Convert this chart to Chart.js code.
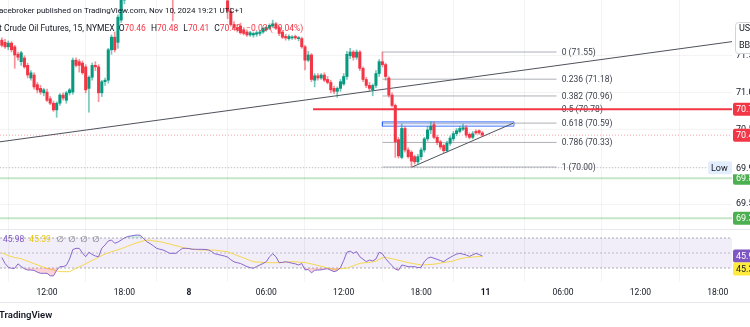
<!DOCTYPE html>
<html>
<head>
<meta charset="utf-8">
<script src="https://cdn.jsdelivr.net/npm/chart.js@4.4.1/dist/chart.umd.min.js"></script>
<style>
  html, body { margin: 0; padding: 0; background: #ffffff; overflow: hidden; }
  #wrap { position: relative; width: 750px; height: 327px; overflow: hidden; }
  canvas { display: block; }
</style>
</head>
<body>
<div id="wrap"><canvas id="chart" width="750" height="327"></canvas></div>
<script>
// ---- Light Crude Oil Futures, 15 min bars (bar 0 = Nov 7, 12:00) ----
const FIRST_BAR = -14;

const opens = [
  71.71, 71.68, 71.62, 71.67, 71.62, 71.52, 71.42, 71.47, 71.37, 71.20, 71.24, 71.11, 71.06, 71.00,
  71.01, 70.92, 70.86, 70.77, 70.86, 70.97, 70.90, 71.00, 71.01, 71.44, 71.42, 71.40, 71.35, 71.06, 71.21, 71.37, 71.35, 71.00, 71.15, 71.17, 71.58, 71.75, 71.68, 71.98,
  72.25, 72.40, 72.50, 72.58, 72.54, 72.48, 72.55, 72.66, 72.62, 72.56, 72.47, 72.42, 72.38, 72.35, 72.28, 72.30, 72.26, 72.36, 72.42, 72.46, 72.44, 72.48, 72.45, 72.41, 72.43, 72.40, 72.37, 72.40, 72.38, 72.33, 72.30, 72.32, 72.24, 72.10,
  71.92, 71.88, 71.90, 71.85, 71.82, 71.78, 71.78, 71.79, 71.80, 71.82, 71.85, 71.87, 71.90, 71.93, 71.88, 71.82, 71.76, 71.73, 71.74, 71.76, 71.73, 71.73, 71.62, 71.44, 71.51, 71.17, 71.23, 71.20, 71.24, 71.18, 71.14, 71.06, 71.02, 71.06, 71.12, 71.22, 71.50, 71.55, 71.48, 71.55, 71.33, 71.18, 71.10, 71.04, 71.10, 71.26,
  71.42, 71.38, 71.20, 70.97, 70.83, 70.37, 70.13, 70.52, 70.23, 70.20, 70.14, 70.07, 70.14, 70.23, 70.38, 70.50, 70.57, 70.40, 70.34, 70.29, 70.22, 70.32, 70.38, 70.45, 70.48, 70.51, 70.53, 70.44, 70.40, 70.48, 70.49, 70.46
];
const highs = [
  71.74, 71.72, 71.70, 71.69, 71.64, 71.55, 71.56, 71.50, 71.40, 71.30, 71.27, 71.14, 71.10, 71.06,
  71.05, 70.95, 70.89, 70.88, 70.99, 71.00, 71.02, 71.06, 71.47, 71.47, 71.45, 71.43, 71.38, 71.23, 71.40, 71.42, 71.38, 71.17, 71.20, 71.60, 71.78, 71.82, 72.05, 72.30,
  72.45, 72.55, 72.62, 72.66, 72.60, 72.58, 72.70, 72.75, 72.68, 72.60, 72.52, 72.48, 72.44, 72.40, 72.34, 72.36, 72.40, 72.46, 72.50, 72.54, 72.52, 72.56, 72.50, 72.47, 72.49, 72.45, 72.44, 72.46, 72.42, 72.38, 72.36, 72.35, 72.30, 72.14,
  71.96, 71.92, 71.94, 71.88, 71.85, 71.83, 71.82, 71.83, 71.84, 71.89, 71.90, 71.93, 71.98, 71.95, 71.90, 71.84, 71.79, 71.78, 71.77, 71.78, 71.76, 71.75, 71.64, 71.56, 71.53, 71.26, 71.26, 71.26, 71.27, 71.22, 71.17, 71.09, 71.08, 71.18, 71.26, 71.56, 71.60, 71.57, 71.58, 71.57, 71.35, 71.21, 71.14, 71.12, 71.30, 71.45,
  71.55, 71.40, 71.22, 71.00, 70.85, 70.40, 70.58, 70.55, 70.26, 70.22, 70.16, 70.17, 70.26, 70.40, 70.55, 70.61, 70.61, 70.43, 70.36, 70.31, 70.35, 70.42, 70.48, 70.52, 70.55, 70.58, 70.56, 70.46, 70.48, 70.50, 70.50, 70.48
];
const lows = [
  71.62, 71.60, 71.58, 71.55, 71.33, 71.44, 71.37, 71.33, 71.20, 71.17, 71.05, 71.00, 70.98, 70.96,
  70.88, 70.84, 70.75, 70.67, 70.83, 70.90, 70.86, 70.97, 70.98, 71.35, 71.28, 71.25, 71.00, 70.74, 71.17, 71.30, 70.88, 70.95, 71.10, 71.13, 71.52, 71.55, 71.60, 71.95,
  72.20, 72.36, 72.44, 72.50, 72.45, 72.42, 72.52, 72.58, 72.52, 72.44, 72.38, 72.34, 72.30, 72.27, 72.26, 71.97, 72.26, 72.32, 72.38, 72.40, 72.40, 72.42, 72.38, 72.36, 72.38, 72.34, 72.32, 72.35, 72.30, 72.27, 72.26, 72.26, 72.00, 71.90,
  71.86, 71.82, 71.79, 71.78, 71.76, 71.76, 71.75, 71.76, 71.77, 71.80, 71.83, 71.85, 71.88, 71.85, 71.77, 71.73, 71.71, 71.71, 71.72, 71.72, 71.70, 71.60, 71.31, 71.42, 71.15, 71.08, 71.17, 71.18, 71.15, 71.12, 71.00, 70.99, 70.94, 71.02, 71.10, 71.18, 71.46, 71.44, 71.45, 71.30, 71.15, 71.07, 71.03, 70.96, 71.07, 71.22,
  71.35, 71.17, 70.94, 70.81, 70.13, 70.12, 70.11, 70.20, 70.12, 70.00, 70.04, 70.04, 70.10, 70.20, 70.35, 70.45, 70.38, 70.30, 70.24, 70.19, 70.20, 70.29, 70.35, 70.42, 70.46, 70.49, 70.40, 70.38, 70.38, 70.44, 70.44, 70.41
];
const closes = [
  71.64, 71.62, 71.67, 71.58, 71.51, 71.48, 71.54, 71.35, 71.24, 71.27, 71.08, 71.04, 71.01, 71.04,
  70.90, 70.86, 70.77, 70.86, 70.97, 70.93, 71.00, 71.04, 71.44, 71.37, 71.37, 71.27, 71.04, 71.21, 71.37, 71.35, 71.00, 71.15, 71.17, 71.58, 71.75, 71.58, 72.02, 72.25,
  72.40, 72.50, 72.58, 72.54, 72.48, 72.55, 72.66, 72.62, 72.56, 72.47, 72.42, 72.38, 72.35, 72.28, 72.30, 72.26, 72.36, 72.42, 72.46, 72.44, 72.48, 72.45, 72.41, 72.43, 72.40, 72.37, 72.40, 72.38, 72.33, 72.30, 72.32, 72.28, 72.10, 71.92,
  71.88, 71.85, 71.81, 71.80, 71.78, 71.81, 71.80, 71.81, 71.82, 71.87, 71.88, 71.91, 71.93, 71.87, 71.80, 71.75, 71.74, 71.76, 71.75, 71.74, 71.74, 71.62, 71.44, 71.51, 71.18, 71.23, 71.20, 71.24, 71.17, 71.14, 71.04, 71.02, 71.06, 71.15, 71.22, 71.52, 71.55, 71.48, 71.55, 71.33, 71.18, 71.10, 71.06, 71.10, 71.26, 71.42,
  71.38, 71.22, 70.97, 70.83, 70.34, 70.15, 70.52, 70.23, 70.14, 70.08, 70.07, 70.14, 70.23, 70.38, 70.50, 70.55, 70.40, 70.33, 70.27, 70.22, 70.32, 70.39, 70.45, 70.49, 70.52, 70.53, 70.43, 70.40, 70.45, 70.46, 70.46, 70.43
];

// RSI 14 and its moving average, one value per bar
const rsiValues = [
  44, 36, 31, 29.6, 29.6, 35.5, 32, 29, 27.3, 27.3, 26.8, 24.5, 22.9, 22.9,
  22.9, 19.5, 19.5, 27, 31.8, 31.8, 33.5, 42, 54.5, 56.2, 56.2, 50, 45, 51, 48, 46, 45, 56.5, 60.7, 66, 67.3, 63, 64.5, 67.3,
  70, 72, 72.7, 73.5, 74, 73.5, 69, 65, 62.5, 59.5, 56.2, 55, 54, 52, 49.6, 49.6, 49.6, 53, 56.2, 56.2, 56, 55, 54.9, 54.9, 54.9, 54.7, 54.2, 52, 49, 48, 47, 46, 44.5, 41,
  38.2, 37, 36, 34, 31.8, 30.5, 29.6, 32, 34, 36, 38.4, 45, 49, 45, 37, 37.5, 38.3, 37.5, 36.4, 35.5, 34, 36, 27.5, 28, 23.5, 27, 27.3, 27.5, 28.5, 29, 27, 25.1, 26.5, 30.5, 40, 51, 52.5, 49.6, 51.8, 45, 41.7, 38.5, 40.5, 39.5, 42, 51,
  49, 42.5, 37.5, 33, 28.5, 27, 34, 33, 31.8, 31.8, 31.8, 30.5, 31, 38.5, 43, 44.5, 43, 41.5, 40, 38.3, 41.5, 44, 46.5, 48.5, 49.5, 48.5, 47.3, 45.5, 47.5, 49.5, 48, 45.98
];
const rsiMaValues = [
  50, 48.5, 46.5, 45.2, 44, 43.3, 42.4, 40.6, 39, 37.4, 35.8, 34.2, 32.6, 31,
  29.5, 28.4, 27.4, 26.2, 25.1, 25.1, 25.1, 25.1, 27.5, 29.5, 31.5, 33.6, 35.8, 37.9, 40, 42.2, 44.4, 46.5, 48.7, 50.3, 51.7, 53, 54.3, 55.6,
  57.3, 59, 60.7, 62.5, 63.8, 65, 66.3, 67.3, 67, 66, 65.7, 65.1, 64, 63, 62, 60.8, 59.8, 58.6, 57.5, 56.4, 55.8, 55.3, 54.7, 54.2, 54, 54, 54, 54, 53.8, 53.2, 52.7, 52.2, 51.6, 50,
  48.4, 46.5, 45, 43.4, 41.6, 40, 38.4, 38, 37.8, 37.4, 37.1, 37.1, 37.1, 37.1, 37.1, 37.4, 37.7, 38.1, 38.4, 38.2, 37.8, 37.5, 37.2, 36.4, 35.4, 34.4, 33.3, 32.3, 31.2, 30.1, 29, 28.2, 28.5, 29, 29.4, 29.6, 31.4, 33, 34.6, 36.2, 36.7, 37.2, 37.6, 38.1, 39, 41.5,
  43.5, 44, 43.2, 42.2, 41.4, 40.3, 39.3, 38.2, 37.1, 36.4, 35.6, 34.8, 34.1, 34.3, 34.6, 34.8, 35.1, 35.8, 36.6, 37.3, 38, 38.6, 39.4, 41, 42.1, 43.3, 43.9, 44.3, 44.6, 45, 45.2, 45.39
];

// time axis: bar number of each label and its text
const timeTickBars   = [0, 24, 44, 68, 92, 116, 136, 160, 184, 208];
const timeTickLabels = ['12:00', '18:00', '8', '06:00', '12:00', '18:00', '11', '06:00', '12:00', '18:00'];
const dayTickLabels  = ['8', '11'];

// price scale labels
const priceTicks = [69.5, 70.0, 70.5, 71.0, 71.5];

// drawings
const fibHigh = 71.55, fibLow = 70.00;
const fibRatios = [0, 0.236, 0.382, 0.5, 0.618, 0.786, 1];
const fibFromBar = 104, fibToBar = 158, fibLabelBar = 159.6;
const resistanceLevel = 70.78, resistanceFromBar = 82.5;
const supportLevels = [69.85, 69.31];
const sessionLow = 69.99;
const trendLinePoints = [{ x: -14.57, y: 70.34 }, { x: 212.4, y: 71.69 }];
const triangleLowerPoints = [{ x: 113.2, y: 70.00 }, { x: 144.5, y: 70.59 }];
const rangeBox = { fromBar: 104, toBar: 144.8, low: 70.55, high: 70.61 };
const rsiBands = [70, 50, 30];

// visible window (bars)
const X_MIN = -14.57, X_MAX = 212.4;

const FONT = 'Roboto, "Noto Sans", "DejaVu Sans", sans-serif';
const UP = '#089981', DOWN = '#F23645';
const TEXT = '#131722';

const barNo = opens.map((_, k) => FIRST_BAR + k);
const isUp = opens.map((o, k) => closes[k] >= o);
const lastK = closes.length - 1;

function fibPrice(r) { return fibHigh - r * (fibHigh - fibLow); }
function fmt2(v) { return (Math.round(v * 100 + 1e-6) / 100).toFixed(2); }

function hLine(value, from, to, color, width, dash, axis, order) {
  return {
    type: 'line', yAxisID: axis || 'y', order: order || 5,
    data: [{ x: from, y: value }, { x: to, y: value }],
    borderColor: color, borderWidth: width, borderDash: dash || [],
    pointRadius: 0, fill: false, tension: 0
  };
}

const datasets = [];

// candles: wicks then bodies
datasets.push({
  type: 'bar', label: 'wicks', yAxisID: 'y', order: 3, grouped: false,
  data: barNo.map((x, k) => ({ x, y: [lows[k], highs[k]] })),
  backgroundColor: isUp.map(u => u ? 'rgba(8,153,129,0.55)' : 'rgba(242,54,69,0.55)'),
  barThickness: 1
});
datasets.push({
  type: 'bar', label: 'bodies', yAxisID: 'y', order: 2, grouped: false,
  data: barNo.map((x, k) => ({ x, y: [opens[k], closes[k]] })),
  backgroundColor: isUp.map(u => u ? UP : DOWN),
  barThickness: 2.4, minBarLength: 1
});

// fib retracement levels
fibRatios.forEach(r => datasets.push(hLine(fibPrice(r), fibFromBar, fibToBar, 'rgba(120,123,134,0.6)', 1, [], 'y', 6)));

// long trend line and triangle support
datasets.push({ type: 'line', yAxisID: 'y', order: 4, data: trendLinePoints, borderColor: '#4f525c', borderWidth: 1, pointRadius: 0, fill: false });
datasets.push({ type: 'line', yAxisID: 'y', order: 4, data: triangleLowerPoints, borderColor: '#4f525c', borderWidth: 1, pointRadius: 0, fill: false });

// range rectangle
datasets.push({
  type: 'line', yAxisID: 'y', order: 5,
  data: [
    { x: rangeBox.fromBar, y: rangeBox.low }, { x: rangeBox.toBar, y: rangeBox.low },
    { x: rangeBox.toBar, y: rangeBox.high }, { x: rangeBox.fromBar, y: rangeBox.high },
    { x: rangeBox.fromBar, y: rangeBox.low }
  ],
  borderColor: 'rgba(41,98,255,0.75)', borderWidth: 1, backgroundColor: 'rgba(41,98,255,0.13)',
  pointRadius: 0, fill: 'shape', tension: 0
});

// horizontal levels
datasets.push(hLine(resistanceLevel, resistanceFromBar, X_MAX, DOWN, 2, [], 'y', 1));
supportLevels.forEach(v => datasets.push(hLine(v, X_MIN, X_MAX, 'rgba(76,175,80,0.32)', 2, [], 'y', 7)));
datasets.push(hLine(closes[lastK], X_MIN, X_MAX, 'rgba(242,54,69,0.45)', 1, [1, 2], 'y', 7));
datasets.push(hLine(sessionLow, X_MIN, X_MAX, 'rgba(120,123,134,0.45)', 1, [1, 2], 'y', 7));

// RSI pane: band lines and band fill
datasets.push(hLine(rsiBands[0], X_MIN, X_MAX, 'rgba(120,123,134,0.6)', 1, [2, 2], 'rsi', 9));
datasets.push(Object.assign(hLine(rsiBands[2], X_MIN, X_MAX, 'rgba(120,123,134,0.6)', 1, [2, 2], 'rsi', 9), {
  fill: '-1', backgroundColor: 'rgba(126,87,194,0.10)'
}));
datasets.push(hLine(rsiBands[1], X_MIN, X_MAX, 'rgba(120,123,134,0.45)', 1, [2, 2], 'rsi', 9));

// RSI moving average
datasets.push({
  type: 'line', yAxisID: 'rsi', order: 8,
  data: barNo.map((x, k) => ({ x, y: rsiMaValues[k] })),
  borderColor: '#F5D64A', borderWidth: 1, pointRadius: 0, fill: false, tension: 0
});
// RSI with oversold / overbought shading
datasets.push({
  type: 'line', yAxisID: 'rsi', order: 7,
  data: barNo.map((x, k) => ({ x, y: rsiValues[k] })),
  borderColor: '#8866CC', borderWidth: 1, pointRadius: 0, tension: 0,
  fill: { target: { value: rsiBands[2] }, above: 'rgba(0,0,0,0)', below: 'rgba(242,54,69,0.22)' }
});
datasets.push({
  type: 'line', yAxisID: 'rsi', order: 7,
  data: barNo.map((x, k) => ({ x, y: rsiValues[k] })),
  borderWidth: 0, borderColor: 'rgba(0,0,0,0)', pointRadius: 0, tension: 0,
  fill: { target: { value: rsiBands[0] }, above: 'rgba(8,153,129,0.18)', below: 'rgba(0,0,0,0)' }
});

function roundRect(ctx, x, y, w, h, r) {
  ctx.beginPath();
  ctx.moveTo(x + r, y);
  ctx.lineTo(x + w - r, y); ctx.quadraticCurveTo(x + w, y, x + w, y + r);
  ctx.lineTo(x + w, y + h - r); ctx.quadraticCurveTo(x + w, y + h, x + w - r, y + h);
  ctx.lineTo(x + r, y + h); ctx.quadraticCurveTo(x, y + h, x, y + h - r);
  ctx.lineTo(x, y + r); ctx.quadraticCurveTo(x, y, x + r, y);
  ctx.closePath();
}

function axisTag(ctx, y, text, bg, fg) {
  ctx.fillStyle = bg;
  roundRect(ctx, 733, y - 6.5, 40, 13, 2);
  ctx.fill();
  ctx.fillStyle = fg;
  ctx.textAlign = 'left';
  ctx.fillText(text, 736, y + 0.5);
}

const annotations = {
  id: 'annotations',
  beforeDatasetsDraw(chart) {
    const ctx = chart.ctx, xs = chart.scales.x, ys = chart.scales.y;
    ctx.save();
    // pane separator and time-axis rule
    ctx.fillStyle = '#e6e8ee';
    ctx.fillRect(0, Math.round(ys.bottom), 750, 1);
    ctx.fillRect(0, 302, 750, 1);
    // fib labels
    ctx.font = `8.5px ${FONT}`;
    ctx.textBaseline = 'middle';
    ctx.textAlign = 'left';
    ctx.fillStyle = '#3b3f4a';
    const lx = xs.getPixelForValue(fibLabelBar);
    fibRatios.forEach(r => {
      const p = fibPrice(r);
      ctx.fillText(`${r} (${fmt2(p)})`, lx, ys.getPixelForValue(p) + 0.5);
    });
    ctx.restore();
  },
  afterDraw(chart) {
    const ctx = chart.ctx, ys = chart.scales.y, rs = chart.scales.rsi;
    ctx.save();
    ctx.textBaseline = 'middle';
    ctx.textAlign = 'left';

    // header lines
    ctx.font = `8px ${FONT}`;
    ctx.fillStyle = TEXT;
    ctx.fillText('acebroker published on TradingView.com, Nov 10, 2024 19:21 UTC+1', -1, 10.5);
    ctx.font = `8.5px ${FONT}`;
    let x = -1;
    const put = (t, c, gap) => { ctx.fillStyle = c; ctx.fillText(t, x, 28.5); x += ctx.measureText(t).width + (gap || 0); };
    put('t Crude Oil Futures, 15, NYMEX', TEXT, 4);
    const chg = closes[lastK] - closes[lastK - 1];
    const pct = chg / closes[lastK - 1] * 100;
    const sign = v => (v < 0 ? '\u2212' : '+');
    put('O', TEXT); put(fmt2(opens[lastK]), DOWN, 5);
    put('H', TEXT); put(fmt2(highs[lastK]), DOWN, 5);
    put('L', TEXT); put(fmt2(lows[lastK]), DOWN, 5);
    put('C', TEXT); put(fmt2(closes[lastK]), DOWN, 5);
    put(`${sign(chg)}${fmt2(Math.abs(chg))} (${sign(pct)}${fmt2(Math.abs(pct))}%)`, DOWN);

    // currency / unit box
    ctx.font = `9px ${FONT}`;
    ctx.fillStyle = '#ffffff';
    ctx.strokeStyle = '#d1d4dc';
    ctx.lineWidth = 1;
    roundRect(ctx, 735.5, 22.5, 30, 31, 3);
    ctx.fill(); ctx.stroke();
    ctx.fillStyle = TEXT;
    ctx.fillText('USD', 739, 29);
    ctx.fillText('BBL', 739, 46);

    // price scale tags
    axisTag(ctx, ys.getPixelForValue(resistanceLevel), fmt2(resistanceLevel), DOWN, '#ffffff');
    axisTag(ctx, ys.getPixelForValue(closes[lastK]), fmt2(closes[lastK]), DOWN, '#ffffff');
    supportLevels.forEach(v => axisTag(ctx, ys.getPixelForValue(v), fmt2(v), '#4CAF50', '#ffffff'));
    const ly = ys.getPixelForValue(sessionLow);
    ctx.fillStyle = '#ffffff';
    ctx.fillRect(733, ly - 6.5, 20, 13);
    ctx.fillStyle = '#e3eefc';
    roundRect(ctx, 708, ly - 6.5, 24, 13, 2); ctx.fill();
    ctx.fillStyle = TEXT;
    ctx.fillText('Low', 711, ly + 0.5);
    ctx.fillText(fmt2(sessionLow), 736, ly + 0.5);

    // RSI tags
    const rsiLast = rsiValues[lastK], maLast = rsiMaValues[lastK];
    const ry = rs.getPixelForValue(rsiLast);
    axisTag(ctx, ry, rsiLast.toFixed(2), '#7E57C2', '#ffffff');
    axisTag(ctx, Math.max(rs.getPixelForValue(maLast), ry + 13), maLast.toFixed(2), '#FFEB3B', TEXT);

    // RSI legend
    ctx.font = `8.5px ${FONT}`;
    let rx = 3;
    const rput = (t, c, gap) => { ctx.fillStyle = c; ctx.fillText(t, rx, 239.5); rx += ctx.measureText(t).width + gap; };
    rput(rsiLast.toFixed(2), '#7E57C2', 5);
    rput(maLast.toFixed(2), '#E8C80E', 6);
    ['\u2205', '\u2205', '\u2205', '\u2205'].forEach(s => rput(s, '#6a6d78', 4.5));

    // watermark
    ctx.font = `600 9.5px ${FONT}`;
    ctx.fillStyle = TEXT;
    ctx.fillText('TradingView', -1, 316);
    ctx.restore();
  }
};

new Chart(document.getElementById('chart'), {
  type: 'bar',
  data: { datasets },
  plugins: [annotations],
  options: {
    responsive: false,
    animation: false,
    devicePixelRatio: 1,
    layout: { padding: 0 },
    plugins: { legend: { display: false }, tooltip: { enabled: false } },
    scales: {
      x: {
        type: 'linear', min: X_MIN, max: X_MAX, offset: false,
        afterFit: s => { s.height = 45; s.paddingLeft = 0; s.paddingRight = 0; },
        afterBuildTicks: s => { s.ticks = timeTickBars.map(v => ({ value: v })); },
        grid: { color: 'rgba(42,46,57,0.06)', drawTicks: false },
        border: { display: false },
        ticks: {
          autoSkip: false, maxRotation: 0, padding: 6, color: TEXT,
          callback: (v, i) => timeTickLabels[i],
          font: c => ({ family: FONT, size: 8.5, weight: dayTickLabels.includes(timeTickLabels[c.index]) ? 'bold' : 'normal' })
        }
      },
      y: {
        type: 'linear', position: 'right', stack: 'panes', stackWeight: 229,
        min: 69.165, max: 72.251,
        afterFit: s => { s.width = 18; s.paddingTop = 0; s.paddingBottom = 0; },
        afterBuildTicks: s => { s.ticks = priceTicks.map(v => ({ value: v })); },
        grid: { color: 'rgba(42,46,57,0.05)', drawTicks: false },
        border: { display: false },
        ticks: { autoSkip: false, padding: 4, color: TEXT, font: { family: FONT, size: 9 }, callback: v => fmt2(v) }
      },
      rsi: {
        type: 'linear', position: 'right', stack: 'panes', stackWeight: 53,
        min: 11.33, max: 82,
        afterFit: s => { s.width = 18; s.paddingTop = 0; s.paddingBottom = 0; },
        grid: { display: false, drawTicks: false },
        border: { display: false },
        ticks: { display: false }
      }
    }
  }
});
</script>
</body>
</html>
